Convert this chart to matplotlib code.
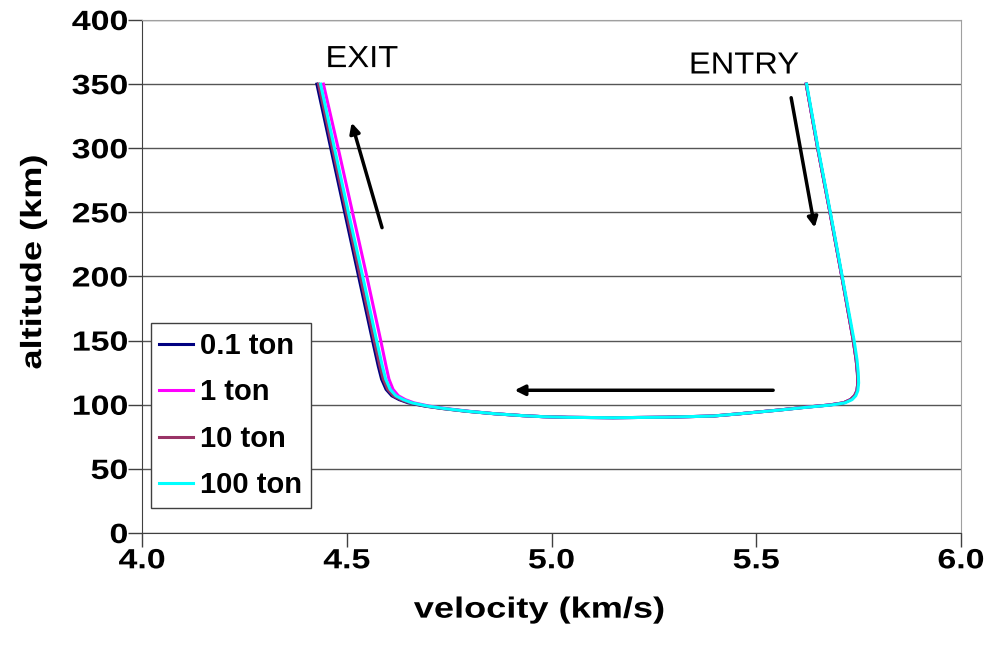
import numpy as np
from matplotlib import pyplot as plt
from matplotlib.patheffects import AbstractPathEffect
from matplotlib.transforms import Affine2D

plt.rcParams['font.family'] = ['Liberation Sans', 'DejaVu Sans']

# trajectory: entry leg (right), skim near 90 km, exit leg (left)
altitude = [350, 300, 250, 200, 150, 135, 125, 117, 111, 107, 104, 101.5, 99.8, 98,
            95.9, 93, 91.2, 90.3, 89.9, 90.2, 90.7, 91.5, 93, 95, 97, 99, 101.5, 104,
            107, 112, 120, 130, 150, 200, 250, 300, 350]

vel_01t = [5.622, 5.650, 5.680, 5.709, 5.737, 5.744, 5.747, 5.748, 5.746, 5.740, 5.730,
           5.713, 5.678, 5.618, 5.556, 5.460, 5.394, 5.280, 5.150, 5.040, 4.980, 4.930,
           4.860, 4.790, 4.735, 4.690, 4.650, 4.628, 4.610, 4.596, 4.585, 4.577, 4.563,
           4.529, 4.495, 4.461, 4.427]
vel_1t = [5.622, 5.650, 5.680, 5.709, 5.737, 5.744, 5.747, 5.748, 5.746, 5.740, 5.730,
          5.713, 5.678, 5.618, 5.556, 5.460, 5.394, 5.280, 5.150, 5.040, 4.980, 4.931,
          4.863, 4.796, 4.744, 4.701, 4.664, 4.643, 4.626, 4.613, 4.603, 4.596, 4.583,
          4.549, 4.514, 4.479, 4.443]
vel_10t = [5.622, 5.650, 5.680, 5.709, 5.737, 5.744, 5.747, 5.748, 5.746, 5.740, 5.730,
           5.713, 5.678, 5.618, 5.556, 5.460, 5.394, 5.280, 5.150, 5.040, 4.980, 4.930,
           4.861, 4.791, 4.737, 4.693, 4.654, 4.632, 4.614, 4.600, 4.589, 4.581, 4.567,
           4.533, 4.499, 4.465, 4.431]
vel_100t = [5.623, 5.651, 5.681, 5.710, 5.739, 5.746, 5.749, 5.750, 5.748, 5.743, 5.734,
            5.717, 5.683, 5.622, 5.558, 5.460, 5.394, 5.280, 5.150, 5.040, 4.980, 4.930,
            4.862, 4.793, 4.740, 4.697, 4.659, 4.638, 4.620, 4.606, 4.595, 4.587, 4.573,
            4.539, 4.504, 4.470, 4.436]

labels = ['0.1 ton', '1 ton', '10 ton', '100 ton']
colors = ['#000080', '#ff00ff', '#993366', '#00ffff']


class Stretch(AbstractPathEffect):
    # widen glyphs sideways, keeping the anchor point (frac of width) fixed
    def __init__(self, sx, frac):
        super().__init__()
        self.sx = sx
        self.frac = frac

    def draw_path(self, renderer, gc, tpath, affine, rgbFace=None):
        ext = tpath.get_extents()
        x0 = ext.x0 + self.frac * ext.width
        st = Affine2D().translate(-x0, 0).scale(self.sx, 1).translate(x0, 0)
        renderer.draw_path(gc, tpath, st + affine, rgbFace)


fig = plt.figure(figsize=(9.89, 6.57), dpi=100)
ax = fig.add_axes([0.1436, 0.1887, 0.8281, 0.7809])

for v, lab, c in zip([vel_01t, vel_1t, vel_10t, vel_100t], labels, colors):
    ax.plot(v, altitude, color=c, lw=2.2, label=lab)

ticks_x = np.arange(4.0, 6.01, 0.5)
ax.set_xlim(4.0, 6.0)
ax.set_ylim(0, 400)
ax.set_xticks(ticks_x)
ax.set_yticks(np.arange(0, 401, 50))
ax.set_xticklabels(['%.1f' % t for t in ticks_x])
ax.grid(axis='y', color='#555555', lw=1)
ax.set_axisbelow(True)
for s in ['top', 'right']:
    ax.spines[s].set_color('#a0a0a0')
for s in ['left', 'bottom']:
    ax.spines[s].set_color('#404040')
ax.tick_params(direction='out', length=10, width=1, color='#404040', labelsize=20)
ax.tick_params(axis='x', pad=1)
ax.tick_params(axis='y', pad=0)
for t in ax.get_xticklabels():
    t.set_fontweight('bold')
    t.set_path_effects([Stretch(1.22, 0.5)])
for t in ax.get_yticklabels():
    t.set_fontweight('bold')
    t.set_path_effects([Stretch(1.22, 1.0)])

xl = ax.set_xlabel('velocity (km/s)', fontsize=21, fontweight='bold')
yl = ax.set_ylabel('altitude (km)', fontsize=21, fontweight='bold')
xl.set_path_effects([Stretch(1.24, 0.5)])
yl.set_path_effects([Stretch(1.24, 0.5)])
ax.xaxis.set_label_coords(0.485, -0.122)
ax.yaxis.set_label_coords(-0.116, 0.528)

arr = dict(arrowstyle='-|>', color='black', lw=2.5, mutation_scale=15)
ax.annotate('', xy=(4.510, 322), xytext=(4.588, 236), arrowprops=arr)
ax.annotate('', xy=(5.644, 236), xytext=(5.584, 341.5), arrowprops=arr)
ax.annotate('', xy=(4.903, 111.3), xytext=(5.548, 111.3), arrowprops=arr)
t1 = ax.text(4.537, 369.5, 'EXIT', fontsize=22, ha='center', va='center')
t2 = ax.text(5.470, 364.5, 'ENTRY', fontsize=22, ha='center', va='center')
t1.set_path_effects([Stretch(1.07, 0.5)])
t2.set_path_effects([Stretch(1.07, 0.5)])

leg = ax.legend(loc='lower left', bbox_to_anchor=(0.0105, 0.049), fancybox=False,
                edgecolor='#404040', framealpha=1, handlelength=1.15,
                handletextpad=0.25, borderpad=0.3, labelspacing=0.63,
                borderaxespad=0, prop={'size': 21, 'weight': 'bold'})
leg.get_frame().set_linewidth(1)

fig.savefig('out.png', dpi=100)
